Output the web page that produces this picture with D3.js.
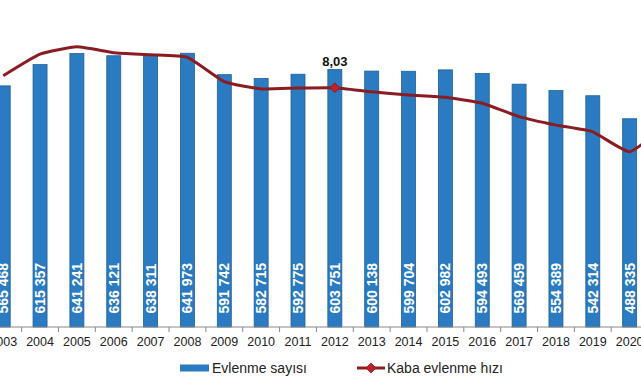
<!DOCTYPE html>
<html>
<head>
<meta charset="utf-8">
<script src="https://cdn.jsdelivr.net/npm/d3@7"></script>
<style>
  body { margin: 0; background: #fff; }
  svg { display: block; font-family: "Liberation Sans", Arial, sans-serif; }
</style>
</head>
<body>
<svg id="chart" width="641" height="380"></svg>
<script>
// years shown (2021 only carries the rising tail of the line, off the right edge)
var years = ["2003", "2004", "2005", "2006", "2007", "2008", "2009", "2010", "2011",
             "2012", "2013", "2014", "2015", "2016", "2017", "2018", "2019", "2020", "2021"];

// Evlenme sayısı
var marriages = [565468, 615357, 641241, 636121, 638311, 641973, 591742, 582715, 592775,
                 603751, 600138, 599704, 602982, 594493, 569459, 554389, 542314, 488335];

// Kaba evlenme hızı (binde) - estimated from the line, only 2012 is labelled
var rates = [8.44, 9.18, 9.43, 9.23, 9.16, 9.07, 8.24, 7.99, 8.02,
             8.03, 7.89, 7.78, 7.70, 7.50, 7.04, 6.75, 6.52, 5.84, 6.78];

var labelledYear = "2012";

var svg = d3.select("#chart"),
    step = 36.85,
    x0 = 3.2 - step / 2,
    baseY = 327;

var x = d3.scaleBand()
    .domain(years)
    .range([x0, x0 + step * years.length])
    .paddingInner(0.62)
    .paddingOuter(0.31);

var y = d3.scaleLinear()
    .domain([0, 700000])
    .range([baseY, 28.5]);

var yr = d3.scaleLinear()
    .domain([0, 10])
    .range([322.2, 30.2]);

var barData = marriages.map(function(v, i) { return {year: years[i], value: v}; });
var lineData = rates.map(function(v, i) { return {year: years[i], value: v}; });

function cx(yr_) { return x(yr_) + x.bandwidth() / 2; }

// bars
svg.append("g").selectAll("rect")
    .data(barData)
  .enter().append("rect")
    .attr("x", function(d) { return x(d.year); })
    .attr("y", function(d) { return y(d.value); })
    .attr("width", x.bandwidth())
    .attr("height", function(d) { return baseY - y(d.value); })
    .attr("fill", "#2A7BC1")
    .attr("stroke", "#20609A")
    .attr("stroke-width", 0.8);

// bar labels
var fmt = function(v) { return d3.format(",")(v).replace(/,/g, " "); };
svg.append("g").selectAll("text")
    .data(barData)
  .enter().append("text")
    .attr("transform", function(d) { return "translate(" + cx(d.year) + "," + (baseY - 13.5) + ") rotate(-90)"; })
    .attr("dy", "0.36em")
    .attr("fill", "#fff")
    .style("font-size", "14px")
    .style("font-weight", "bold")
    .text(function(d) { return fmt(d.value); });

// x axis
var axis = svg.append("g")
    .attr("transform", "translate(0," + baseY + ")");
axis.append("line")
    .attr("x1", 0).attr("x2", 641)
    .attr("stroke", "#888").attr("stroke-width", 1);
axis.selectAll(".tick")
    .data(years)
  .enter().append("line")
    .attr("x1", function(d) { return x(d) - x.step() * x.paddingInner() / 2; })
    .attr("x2", function(d) { return x(d) - x.step() * x.paddingInner() / 2; })
    .attr("y1", 0).attr("y2", 5)
    .attr("stroke", "#888");
axis.selectAll(".lbl")
    .data(years)
  .enter().append("text")
    .attr("x", function(d) { return cx(d); })
    .attr("y", 19)
    .attr("text-anchor", "middle")
    .attr("fill", "#222")
    .style("font-size", "12.5px")
    .text(function(d) { return d; });

// line
var line = d3.line()
    .x(function(d) { return cx(d.year); })
    .y(function(d) { return yr(d.value); })
    .curve(d3.curveCardinal.tension(0.55));

svg.append("path")
    .datum(lineData)
    .attr("d", line)
    .attr("fill", "none")
    .attr("stroke", "#8A1C22")
    .attr("stroke-width", 3);

var diamond = d3.symbol().type(d3.symbolDiamond2).size(60);

var lab = lineData.filter(function(d) { return d.year === labelledYear; });
svg.selectAll(".mk")
    .data(lab)
  .enter().append("path")
    .attr("transform", function(d) { return "translate(" + cx(d.year) + "," + yr(d.value) + ")"; })
    .attr("d", diamond)
    .attr("fill", "#C0202A")
    .attr("stroke", "#8A1C22")
    .attr("stroke-width", 1);

svg.selectAll(".rl")
    .data(lab)
  .enter().append("text")
    .attr("x", function(d) { return cx(d.year); })
    .attr("y", function(d) { return yr(d.value) - 22; })
    .attr("text-anchor", "middle")
    .attr("fill", "#111")
    .style("font-size", "13px")
    .style("font-weight", "bold")
    .text(function(d) { return d3.format(".2f")(d.value).replace(".", ","); });

// legend
var legend = svg.append("g").attr("transform", "translate(0,368)");
legend.append("rect")
    .attr("x", 180).attr("y", -3.5)
    .attr("width", 29).attr("height", 7)
    .attr("fill", "#2A7BC1");
legend.append("text")
    .attr("x", 212).attr("dy", "0.35em")
    .attr("fill", "#222")
    .style("font-size", "14px")
    .text("Evlenme sayısı");
legend.append("line")
    .attr("x1", 357).attr("x2", 385)
    .attr("stroke", "#8A1C22").attr("stroke-width", 3);
legend.append("path")
    .attr("transform", "translate(371,0)")
    .attr("d", diamond)
    .attr("fill", "#C0202A")
    .attr("stroke", "#8A1C22");
legend.append("text")
    .attr("x", 387).attr("dy", "0.35em")
    .attr("fill", "#222")
    .style("font-size", "14px")
    .text("Kaba evlenme hızı");
</script>
</body>
</html>
